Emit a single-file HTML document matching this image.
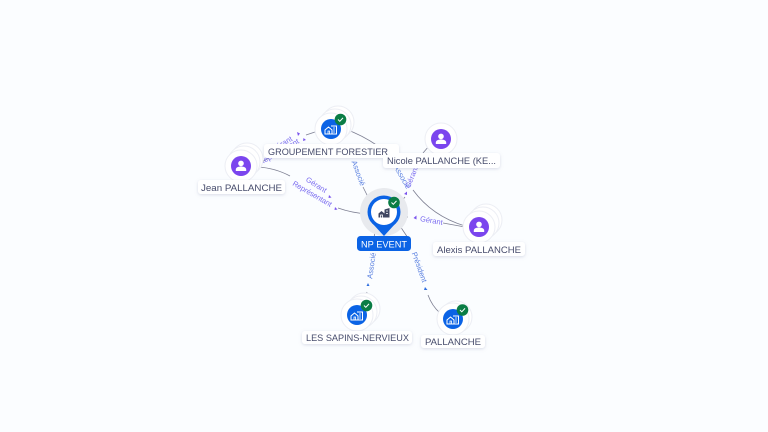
<!DOCTYPE html>
<html><head><meta charset="utf-8"><style>
html,body{margin:0;padding:0;background:#fbfdff}
svg{display:block}
text{font-family:"Liberation Sans",sans-serif}
.l{font-size:9.5px;fill:#474c6c}
.e{font-size:7.5px;fill:#7b6cf0}
.b{font-size:7.5px;fill:#5a80e0}
.c{fill:none;stroke:#7d7f92;stroke-width:.8}
</style></head><body>
<svg width="768" height="432" viewBox="0 0 768 432" xmlns="http://www.w3.org/2000/svg">
<defs>
<filter id="s" x="-30%" y="-30%" width="160%" height="160%"><feDropShadow dx="0" dy="1" stdDeviation="1.500" flood-color="#8890b0" flood-opacity=".3"/></filter>
<g id="pin"><circle r="16" fill="#fff" stroke="#eceef4" stroke-width="1"/></g>
<g id="person"><circle r="10" fill="#7b45ee"/><circle cy="-2.600" r="2.800" fill="#fff"/><path d="M-5.200 5v-1.500c0-2 2.500-3 5.200-3s5.200 1 5.200 3V5z" fill="#fff"/></g>
<g id="co"><circle r="10" fill="#0b63e5"/><path d="M-6 5v-4l3.500-3 3.500 3v4zM0 -3h5.500v8H0" fill="none" stroke="#fff" stroke-width="1"/><path d="M-3 5v-3h1.500v3M2 -1h2M2 1h2M2 3h2" fill="none" stroke="#fff" stroke-width=".8"/></g>
<g id="ok"><circle r="5.800" fill="#0a7d45"/><path d="M-2.500 0l1.800 1.800 3.200-3.400" fill="none" stroke="#fff" stroke-width="1"/></g>
</defs>
<rect width="768" height="432" fill="#fbfdff"/>

<path class="c" d="M262 162L272 156"/>
<path class="c" d="M306 135L318 131"/>
<path class="c" d="M258 167Q275 168 290 176"/>
<path class="c" d="M338 208Q352 213 368 214"/>
<path class="c" d="M345 129Q362 135 378 146"/>
<path class="c" d="M363 187L369 199"/>
<path class="c" d="M429 146L423 153"/>
<path class="c" d="M400 203L405 197"/>
<path class="c" d="M413 190Q432 216 465 226"/>
<path class="c" d="M443 223L465 227"/>
<path class="c" d="M399 217L408 217"/>
<path class="c" d="M375 231L374 238"/>
<path class="c" d="M398 223L408 238"/>
<path class="c" d="M367 292L366 295"/>
<path class="c" d="M428 295Q432 306 440 313"/>

<text class="e" transform="translate(283 146) rotate(-30)" text-anchor="middle">Gérant</text>
<text class="e" transform="translate(280 154) rotate(-30)" text-anchor="middle">Représentant</text>
<text class="e" transform="translate(315 187) rotate(32)" text-anchor="middle">Gérant</text>
<text class="e" transform="translate(311 196) rotate(30)" text-anchor="middle" textLength="44">Représentant</text>
<text class="b" transform="translate(356 174) rotate(70)" text-anchor="middle">Associé</text>
<text class="b" transform="translate(400 178) rotate(60)" text-anchor="middle">Associé</text>
<text class="e" transform="translate(414 178) rotate(-68)" text-anchor="middle">Gérant</text>
<text class="e" transform="translate(431 223) rotate(10)" text-anchor="middle">Gérant</text>
<text class="b" transform="translate(374 266) rotate(-82)" text-anchor="middle">Associé</text>
<text class="b" transform="translate(417 268) rotate(70)" text-anchor="middle">Président</text>

<g fill="#7b55ee">
<path d="M297 132l3 1.500-2 2.500zM303.500 138l2.500 2-3 1z"/>
<path d="M329 195l2.500 2.500-3 .5zM335 207l2.500 2.500-3 .5z"/>
<path d="M404 194l3-2.500v3.500zM413.500 218l3-2.500v4z"/>
</g>
<g fill="#2f6fe0">
<path d="M366.500 286l3 0-1.500-3zM424 290l3.500 0-2.500-3z"/>
</g>

<!-- Jean -->
<use href="#pin" x="247" y="159"/><use href="#pin" x="244" y="162"/><use href="#pin" x="241" y="166"/><use href="#person" x="241" y="166"/>
<!-- Groupement -->
<use href="#pin" x="338" y="122"/><use href="#pin" x="335" y="125"/><use href="#pin" x="331" y="129"/><use href="#co" x="331" y="129"/><use href="#ok" x="340.500" y="119.500"/>
<!-- Nicole -->
<use href="#pin" x="441" y="139"/><use href="#person" x="441" y="139"/>
<!-- Alexis -->
<use href="#pin" x="486" y="220"/><use href="#pin" x="483" y="223"/><use href="#pin" x="479" y="227"/><use href="#person" x="479" y="227"/>
<!-- Sapins -->
<use href="#pin" x="364" y="309"/><use href="#pin" x="361" y="312"/><use href="#pin" x="357" y="315"/><use href="#co" x="357" y="315"/><use href="#ok" x="366.500" y="305.500"/>
<!-- Pallanche -->
<use href="#pin" x="456" y="317"/><use href="#pin" x="453" y="319"/><use href="#co" x="453" y="319"/><use href="#ok" x="462.500" y="310"/>

<!-- NP EVENT -->
<circle cx="384" cy="212" r="24" fill="#e8eaee"/>
<circle cx="384" cy="212" r="16.500" fill="#0b63e5"/>
<path d="M373 224L384 236L395 224Z" fill="#0b63e5"/>
<circle cx="384" cy="212" r="13" fill="#fff"/>
<path d="M378.500 217.500v-4l3-2.500 3 2.500v4zM384.500 209.500l5-1.500v9.500h-5z" fill="#3f4660"/>
<path d="M380.500 217.500v-2.500h2v2.500M386 211h2M386 213.500h2" fill="none" stroke="#fff" stroke-width=".8"/>
<use href="#ok" x="394" y="202.500"/>
<rect x="357" y="236" width="54" height="15" rx="3.500" fill="#0b63e5"/>
<text x="384" y="247.500" font-size="9.500" fill="#fff" text-anchor="middle" textLength="46" lengthAdjust="spacingAndGlyphs">NP EVENT</text>

<!-- labels -->
<g fill="#fff" filter="url(#s)">
<rect x="264" y="144" width="135" height="14" rx="3"/>
<rect x="383" y="153" width="117" height="15" rx="3"/>
<rect x="198" y="180" width="87" height="14" rx="3"/>
<rect x="433" y="242" width="92" height="14" rx="3"/>
<rect x="302" y="331" width="110" height="13" rx="3"/>
<rect x="421" y="335" width="64" height="13" rx="3"/>
</g>
<text class="l" x="268" y="155" textLength="120" lengthAdjust="spacingAndGlyphs">GROUPEMENT FORESTIER</text>
<text class="l" x="387" y="164" textLength="109" lengthAdjust="spacingAndGlyphs">Nicole PALLANCHE (KE...</text>
<text class="l" x="201" y="191" textLength="81" lengthAdjust="spacingAndGlyphs">Jean PALLANCHE</text>
<text class="l" x="437" y="253" textLength="84" lengthAdjust="spacingAndGlyphs">Alexis PALLANCHE</text>
<text class="l" x="306" y="341" textLength="103" lengthAdjust="spacingAndGlyphs">LES SAPINS-NERVIEUX</text>
<text class="l" x="425" y="345" textLength="56" lengthAdjust="spacingAndGlyphs">PALLANCHE</text>
</svg>
</body></html>
